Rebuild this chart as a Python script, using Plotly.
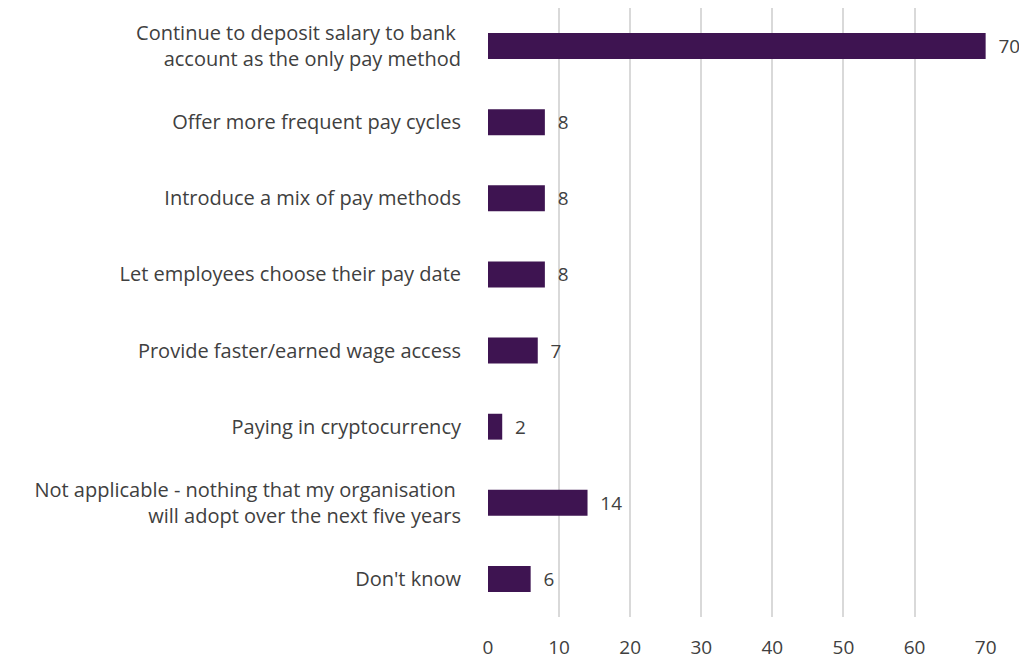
import plotly.graph_objects as go

categories = [
    "Continue to deposit salary to bank <br>account as the only pay method",
    "Offer more frequent pay cycles",
    "Introduce a mix of pay methods",
    "Let employees choose their pay date",
    "Provide faster/earned wage access",
    "Paying in cryptocurrency",
    "Not applicable - nothing that my organisation <br>will adopt over the next five years",
    "Don't know",
]
values = [70, 8, 8, 8, 7, 2, 14, 6]
x_ticks = [0, 10, 20, 30, 40, 50, 60, 70]

bar_color = "#3e1451"
text_color = "#404040"
font_family = "'Open Sans', sans-serif"

fig = go.Figure(
    go.Bar(
        x=values,
        y=categories,
        orientation="h",
        marker=dict(color=bar_color, line=dict(width=0)),
        width=0.34,
        text=["  " + str(v) for v in values],
        textposition="outside",
        textfont=dict(family=font_family, size=19, color=text_color),
        cliponaxis=False,
    )
)

fig.update_layout(
    width=1019,
    height=651,
    margin=dict(l=480, r=41, t=0, b=42, autoexpand=False),
    paper_bgcolor="white",
    plot_bgcolor="white",
    showlegend=False,
    font=dict(family=font_family, size=20, color=text_color),
    xaxis=dict(
        range=[0, 70.05],
        tickvals=x_ticks,
        showgrid=True,
        gridcolor="#d9d9d9",
        gridwidth=1.5,
        zeroline=False,
        showline=False,
        ticks="outside",
        ticklen=13,
        tickcolor="rgba(0,0,0,0)",
        tickfont=dict(family=font_family, size=19, color=text_color),
        automargin=False,
    ),
    yaxis=dict(
        categoryorder="array",
        categoryarray=categories,
        autorange="reversed",
        showgrid=False,
        zeroline=False,
        showline=False,
        ticks="outside",
        ticklen=22,
        tickcolor="rgba(0,0,0,0)",
        tickfont=dict(family=font_family, size=20, color=text_color),
        automargin=False,
    ),
)

fig.write_html("out.html")
